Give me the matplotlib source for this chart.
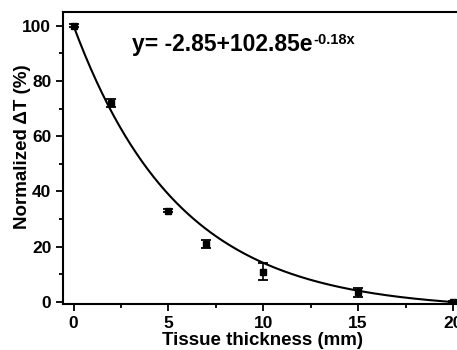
import numpy as np
import matplotlib.pyplot as plt
from matplotlib.ticker import MultipleLocator

plt.rcParams['font.family'] = ['Liberation Sans', 'DejaVu Sans']
plt.rcParams['font.weight'] = 'bold'

# measured points
thickness = [0, 2, 5, 7, 10, 15, 20]
norm_dT = [100, 72, 33, 21, 11, 3.5, 0]
err = [0.5, 1.5, 0.5, 1.5, 3.2, 1.6, 0.5]

# fit y = a + b*exp(c*x)
fit_a, fit_b, fit_c = -2.85, 102.85, -0.18

fig = plt.figure(figsize=(4.57, 3.5), dpi=100)
ax = fig.add_axes([0.138, 0.131, 0.874, 0.835])

xs = np.linspace(0, 20, 200)
ax.plot(xs, fit_a + fit_b * np.exp(fit_c * xs), color='black', lw=1.5)
ax.errorbar(thickness, norm_dT, yerr=err, fmt='s', color='black', ms=4,
            capsize=3.5, elinewidth=1.2, capthick=1.3)

eq = ax.text(3.1, 91, 'y= -2.85+102.85e', fontsize=16.5, fontweight='bold')
ax.annotate('-0.18x', xy=(1, 1), xycoords=eq, xytext=(0.5, -0.5),
            textcoords='offset points', ha='left', va='top',
            fontsize=10.5, fontweight='bold')

ax.set_xlim(-0.55, 20.5)
ax.set_ylim(-0.8, 105)
ax.xaxis.set_major_locator(MultipleLocator(5))
ax.xaxis.set_minor_locator(MultipleLocator(2.5))
ax.yaxis.set_major_locator(MultipleLocator(20))
ax.yaxis.set_minor_locator(MultipleLocator(10))
ax.tick_params(which='both', direction='out', width=1.3, labelsize=12.5)
ax.tick_params(which='major', length=5)
ax.tick_params(which='minor', length=3)
for s in ax.spines.values():
    s.set_linewidth(1.5)

ax.set_xlabel('Tissue thickness (mm)', fontsize=13.5, fontweight='bold', labelpad=1)
ax.set_ylabel('Normalized \u0394T (%)', fontsize=13.5, fontweight='bold')
ax.yaxis.set_label_coords(-0.08, 0.54)

fig.savefig('out.png', dpi=100)
